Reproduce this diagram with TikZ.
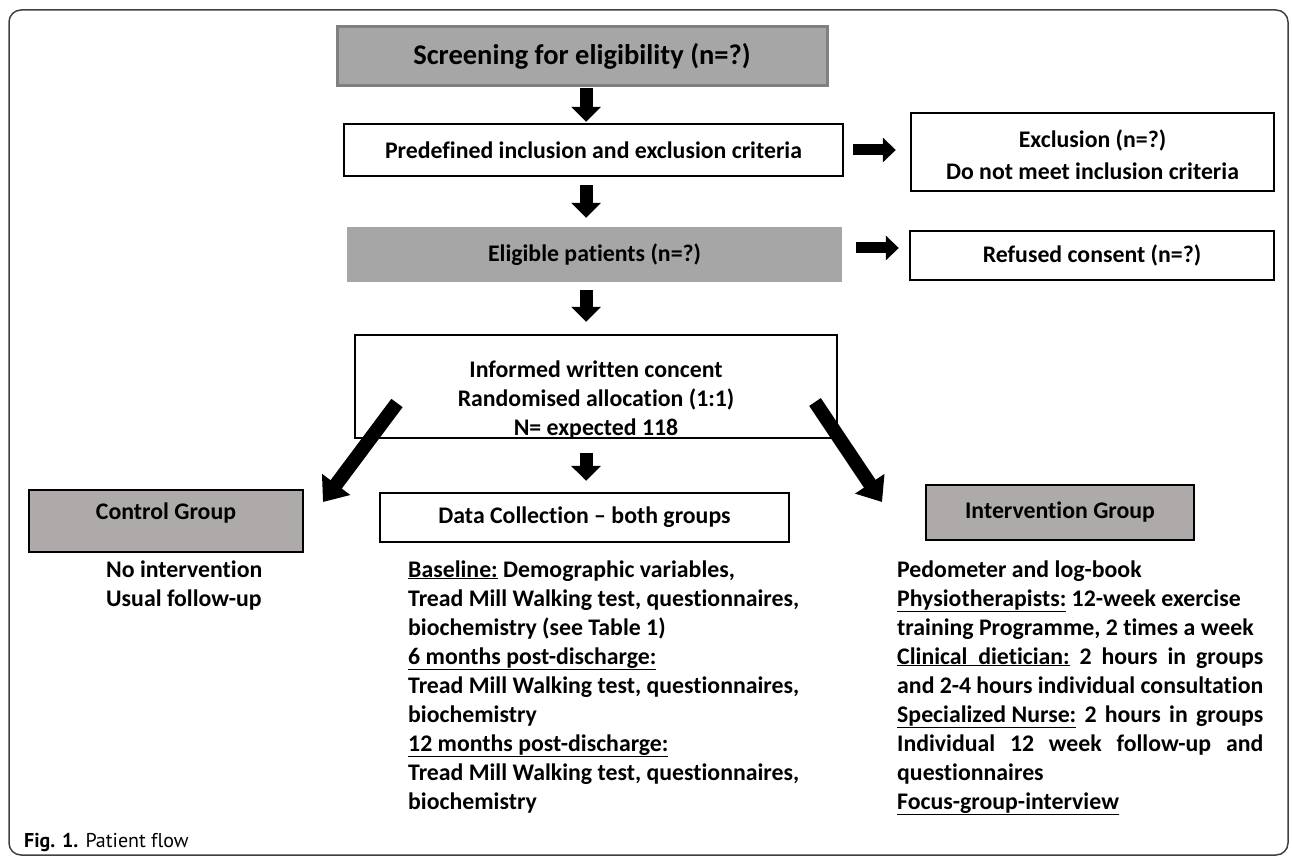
\documentclass[tikz,border=0pt]{standalone}
\usepackage{fontspec}
\setmainfont{Carlito}[Ligatures={TeX,NoCommon}]
\newfontfamily\capfont{PT Sans}[Ligatures={TeX,NoCommon}]
\usetikzlibrary{arrows.meta,calc}
\definecolor{gfill}{HTML}{A6A6A6}
\definecolor{gdraw}{HTML}{808080}
\definecolor{wgray}{HTML}{AEAAAA}
\newcommand\myBody{\fontsize{23.8}{29}\selectfont\bfseries}
\newcommand\myTitle{\fontsize{28.5}{32}\selectfont\bfseries}
\newcommand\myUl[1]{\underline{#1}}
\begin{document}
\begin{tikzpicture}[x=1pt,y=-1pt,
  wbox/.style={draw=black,line width=2.4pt,fill=white,inner sep=0pt,align=center,font=\myBody},
  gbox/.style={draw=black,line width=2.4pt,fill=wgray,inner sep=0pt,align=center,font=\myBody},
  txt/.style={inner sep=0pt,align=center,font=\myBody},
  varr/.style={line width=13pt,-{Triangle[length=15pt,width=29pt]}},
  harr/.style={line width=11pt,-{Triangle[length=13pt,width=24pt]}},
  darr/.style={line width=14pt,-{Triangle[length=22pt,width=34pt]}}]
\useasboundingbox (0,0) rectangle (1292,858);
\draw[line width=1.5pt,draw=black!75,rounded corners=12pt] (9,10) rectangle (1288,855);

% boxes
\node[draw=gdraw,line width=3pt,fill=gfill,inner sep=0pt,minimum width=490pt,minimum height=59pt,font=\myTitle] (scr) at (582,56.5) {Screening for eligibility (n=?)};
\node[wbox,minimum width=499pt,minimum height=52pt] (pre) at (593.5,150) {Predefined inclusion and exclusion criteria};
\node[wbox,minimum width=363pt,minimum height=78pt] (exc) at (1092.5,152) {};
\node[txt,font=\fontsize{23.8}{32}\selectfont\bfseries] (exct) at (1092.5,155) {Exclusion (n=?)\\Do not meet inclusion criteria};
\node[draw=none,fill=gfill,inner sep=0pt,minimum width=495pt,minimum height=55pt,font=\myBody] (elig) at (594.5,254.5) {Eligible patients (n=?)};
\node[wbox,minimum width=364pt,minimum height=49pt] (ref) at (1092,255.5) {Refused consent (n=?)};
\node[wbox,minimum width=482pt,minimum height=103pt] (inf) at (596,386.5) {};
\node[txt] (inft) at (596,400) {Informed written concent\\Randomised allocation (1:1)\\N= expected 118};
\node[gbox,minimum width=274pt,minimum height=62pt] (ctrl) at (166,521) {};
\node[txt] (ctrlt) at (166,513) {Control Group};
\node[wbox,minimum width=409pt,minimum height=49pt] (data) at (584.5,517.5) {Data Collection – both groups};
\node[gbox,minimum width=268pt,minimum height=55pt] (intv) at (1060,512.5) {Intervention Group};

% arrows
\coordinate (ax) at (586,0);
\draw[varr,shorten <=1pt,shorten >=1pt] (scr.south -| ax) -- (pre.north -| ax);
\draw[varr,shorten <=8pt,shorten >=9pt] (pre.south -| ax) -- (elig.north -| ax);
\draw[varr,shorten <=8pt,shorten >=12pt] (elig.south -| ax) -- (inf.north -| ax);
\draw[varr,shorten <=14pt,shorten >=11pt] (inf.south -| ax) -- (data.north -| ax);
\draw[harr,shorten <=9pt,shorten >=14pt] (pre.east) -- (pre.east -| exc.west);
\coordinate (ry) at (0,248);
\draw[harr,shorten <=14pt,shorten >=10pt] (elig.east |- ry) -- (ref.west |- ry);
\coordinate (dlA) at (397,403);
\coordinate (dlB) at (323,502);
\coordinate (drA) at (815,402);
\coordinate (drB) at (882,502);
\draw[darr] (dlA) -- (dlB);
\draw[darr] (drA) -- (drB);

% texts below
\node[anchor=base west,inner sep=0pt] (ctxt) at (106,577) {\parbox[t]{220pt}{\myBody No intervention\\Usual follow-up}};
\node[anchor=base west,inner sep=0pt] (dtxt) at (408,577) {\parbox[t]{440pt}{\myBody \myUl{Baseline:} Demographic variables,\\Tread Mill Walking test, questionnaires,\\biochemistry (see Table 1)\\\myUl{6 months post-discharge:}\\Tread Mill Walking test, questionnaires,\\biochemistry\\\myUl{12 months post-discharge:}\\Tread Mill Walking test, questionnaires,\\biochemistry}};
\node[anchor=base west,inner sep=0pt] (itxt) at (897,577) {\parbox[t]{366pt}{\myBody Pedometer and log-book\\\myUl{Physiotherapists:} 12-week exercise\\training Programme, 2 times a week\\\makebox[\linewidth][s]{\myUl{Clinical\ \ dietician:} 2 hours in groups}\\\makebox[\linewidth][s]{and 2-4 hours individual consultation}\\\makebox[\linewidth][s]{\myUl{Specialized Nurse:} 2 hours in groups}\\\makebox[\linewidth][s]{Individual 12 week follow-up and}\\questionnaires\\\myUl{Focus-group-interview}}};
\node[anchor=base west,inner sep=0pt] (cap) at (24,847) {\capfont\fontsize{20}{22}\selectfont\textbf{Fig. 1.} Patient flow};
\end{tikzpicture}
\end{document}
